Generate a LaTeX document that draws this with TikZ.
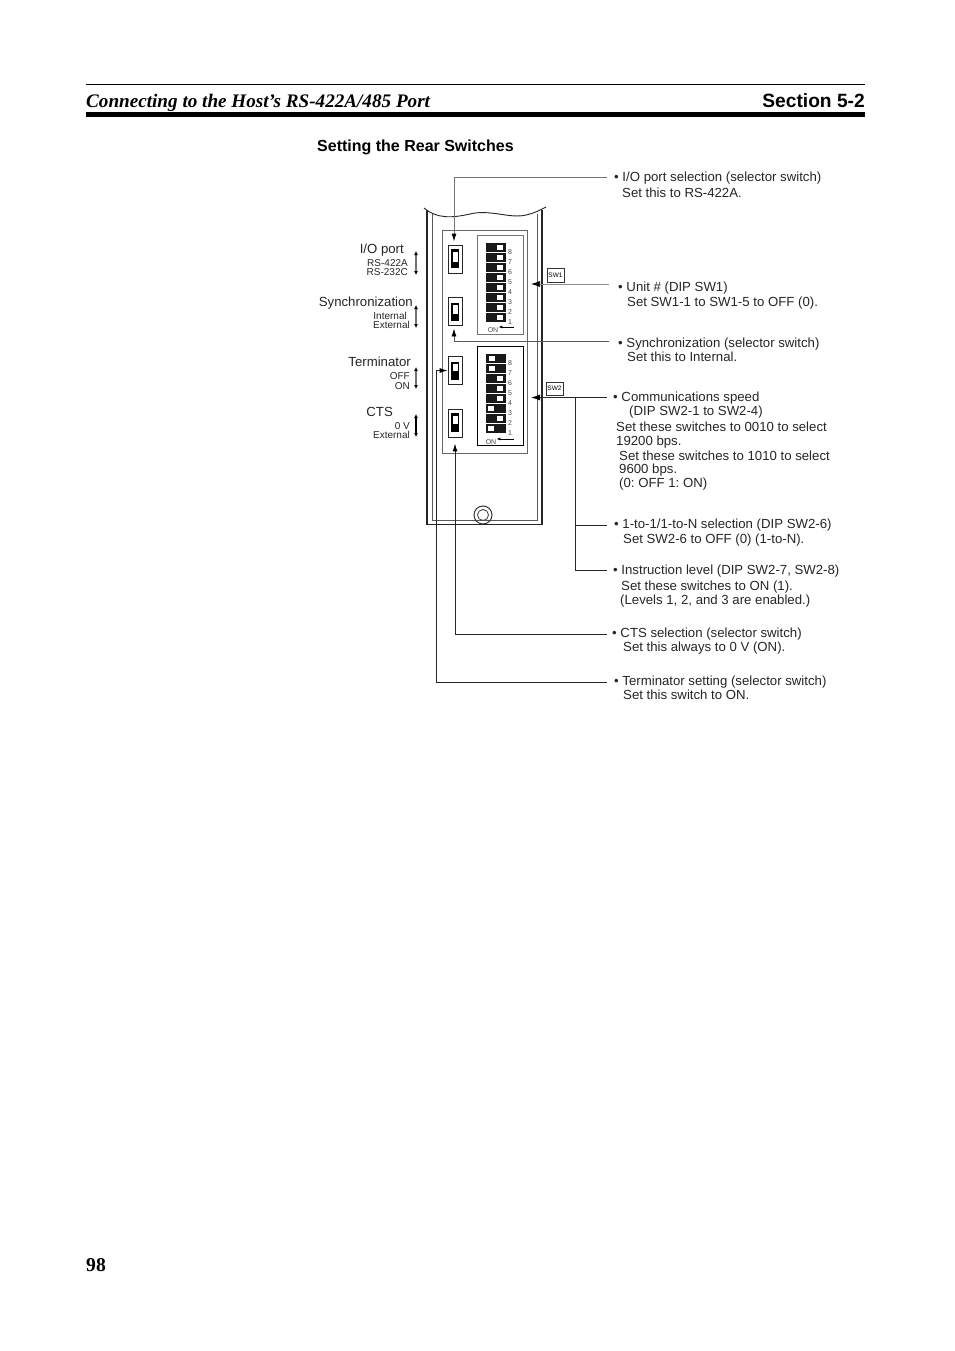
\documentclass[tikz,border=0pt]{standalone}
\usepackage{fontspec}
\usepackage{xcolor}
\setmainfont{Liberation Sans}
\newfontfamily\serifhead{Liberation Serif}
\usetikzlibrary{arrows.meta}

\tikzset{
	callout/.style={anchor=base west, inner sep=0, font=\frenchspacing\fontsize{13.2}{13.2}\selectfont, text=black!85!white},
	small/.style={anchor=base east, inner sep=0, font=\fontsize{10}{10}\selectfont, text=black!85!white},
	tiny/.style={anchor=center, inner sep=0, font=\fontsize{7}{7}\selectfont, text=black!70!white},
	leader/.style={line width=0.9, color=black!85!white},
	tip/.style={-{Latex[length=8,width=5,color=black]}, line width=0.9, color=black!85!white},
	sidetip/.style={-{Latex[length=9,width=6,color=black]}, line width=0.9, color=black!85!white},
	slide/.style={{Latex[length=4,width=4,color=black]}-{Latex[length=4,width=4,color=black]}, line width=1.1, color=black!55!white},
	selector/.style={draw=black!85!white, line width=0.9, minimum width=14, minimum height=28, inner sep=0},
	swtag/.style={draw=black!80!white, line width=0.8, minimum width=17, minimum height=14, inner sep=0, font=\fontsize{6.5}{6.5}\selectfont}
}

\begin{document}
\begin{tikzpicture}[x=1pt, y=-1pt]

\path[use as bounding box, fill=white] (0,0) rectangle (954,1351);

% page head
\draw[line width=0.8] (86,84.5)--(865,84.5);
\draw[line width=4.6] (86,114.4)--(865,114.4);
\node[anchor=base west, inner sep=0, font=\serifhead\bfseries\itshape\fontsize{19.15}{19.15}\selectfont] (head) at (86,107.5) {Connecting to the Host’s RS-422A/485 Port};
\node[anchor=base east, inner sep=0, font=\bfseries\fontsize{19.2}{19.2}\selectfont] (section) at (865,107.5) {Section 5-2};
\node[anchor=base west, inner sep=0, font=\bfseries\fontsize{16}{16}\selectfont] (title) at (317,151.5) {Setting the Rear Switches};
\node[anchor=base west, inner sep=0, font=\serifhead\bfseries\fontsize{19.6}{19.6}\selectfont] (page) at (86,1271) {98};

% unit outline
\draw[line width=1.1, color=black!85!white] (427,209)--(427,524.5)--(542,524.5)--(542,209);
\draw[line width=1.0, color=black!65!white] (432,214)--(432,520)--(537,520)--(537,214);
\draw[fill=white, draw=none] (420,200) rectangle (550,210);
\draw[line width=0.9, color=black!85!white] (424,208) .. controls (437,219) and (452,218) .. (470,214) .. controls (490,209) and (510,219) .. (526,215) .. controls (535,213) and (540,210) .. (546,207);

% switch panel
\draw[line width=1.0, color=black!60!white, fill=white] (442,230) rectangle (527,453.5);

% SW1 and SW2 boxes
\draw[line width=1.0, color=black!55!white] (477,235) rectangle (523.5,334);
\draw[line width=0.9, color=black] (477,346) rectangle (523.5,445);

% DIP levers, SW1 all off
\foreach \n [count=\i from 0] in {8,...,1}{
	\fill[black!90!white] (486,243+\i*10) rectangle (506,251.5+\i*10);
	\fill[white] (497,245+\i*10) rectangle (503,250+\i*10);
	\node[tiny] (swa\n) at (510,252+\i*10) {\n};
}

% DIP levers, SW2
\foreach \n/\xa [count=\i from 0] in {8/489,7/489,6/497,5/497,4/497,3/488,2/497,1/488}{
	\fill[black!90!white] (486,354+\i*10) rectangle (506,362.5+\i*10);
	\fill[white] (\xa,356+\i*10) rectangle (\xa+6,361+\i*10);
	\node[tiny] (swb\n) at (510,363.5+\i*10) {\n};
}

\node[tiny] (ona) at (493,330.5) {ON};
\node[tiny] (onb) at (491,442) {ON};
\coordinate (onaend) at (514,327);
\coordinate (onbend) at (514,439);
\draw[-{Latex[length=4,width=3]}, line width=0.7] (onaend)--(ona.east|-onaend);
\draw[-{Latex[length=4,width=3]}, line width=0.7] (onbend)--(onb.east|-onbend);

% selector switches
\node[selector] (sela) at (455,259) {};
\node[selector] (selb) at (455,311) {};
\node[selector] (selc) at (455,370.5) {};
\node[selector] (seld) at (455,423) {};
\fill[black] (451,249) rectangle (459,268);
\fill[white] (452.5,252) rectangle (457.5,262);
\fill[black] (451,303) rectangle (459,321);
\fill[white] (452.5,305) rectangle (457.5,314);
\fill[black] (451,362) rectangle (459,380);
\fill[white] (452.5,364) rectangle (457.5,371);
\fill[black] (451,413) rectangle (459,432);
\fill[white] (452.5,416) rectangle (457.5,424);

% screw
\node[circle, draw=black!80!white, line width=1.0, minimum size=18, inner sep=0] (screw) at (483,515) {};
\node[circle, draw=black!70!white, line width=0.9, minimum size=11, inner sep=0] (screwin) at (483,515) {};

% labels of the switches
\node[callout, anchor=base east] (lio) at (404,253) {I/O port};
\node[small] (lioa) at (408,266) {RS-422A};
\node[small] (liob) at (408,275) {RS-232C};
\node[callout, anchor=base east] (lsyn) at (413,306) {Synchronization};
\node[small] (lsyna) at (407,319) {Internal};
\node[small] (lsynb) at (410,328) {External};
\node[callout, anchor=base east] (lter) at (411,366) {Terminator};
\node[small] (ltera) at (410,379) {OFF};
\node[small] (lterb) at (410,389) {ON};
\node[callout, anchor=base east] (lcts) at (393,416) {CTS};
\node[small] (lctsa) at (410,429) {0 V};
\node[small] (lctsb) at (410,438) {External};
\coordinate (aa) at (416,251);
\coordinate (ab) at (416,275);
\coordinate (ba) at (416,305);
\coordinate (bb) at (416,328);
\coordinate (ca) at (416,367);
\coordinate (cb) at (416,389);
\coordinate (da) at (416,414);
\coordinate (db) at (416,437);
\foreach \a/\b in {aa/ab,ba/bb,ca/cb}{
	\draw[slide] (\a)--(\b);
}
\draw[slide, color=black] (da)--(db);

% SW name tags
\node[swtag] (tagone) at (555.5,275) {SW1};
\node[swtag, minimum height=13] (tagtwo) at (554.5,388.5) {SW2};

% callouts
\node[callout] (ioa) at (614,181.5) {• I/O port selection (selector switch)};
\node[callout] (iob) at (622,197) {Set this to RS-422A.};
\node[callout] (una) at (618,291) {• Unit \# (DIP SW1)};
\node[callout] (unb) at (627,306) {Set SW1-1 to SW1-5 to OFF (0).};
\node[callout] (sya) at (618,347) {• Synchronization (selector switch)};
\node[callout] (syb) at (627,361) {Set this to Internal.};
\node[callout] (coa) at (613,401) {• Communications speed};
\node[callout] (cob) at (629,415) {(DIP SW2-1 to SW2-4)};
\node[callout] (coc) at (616,431) {Set these switches to 0010 to select};
\node[callout] (cod) at (616,445) {19200 bps.};
\node[callout] (coe) at (619,460) {Set these switches to 1010 to select};
\node[callout] (cof) at (619,473) {9600 bps.};
\node[callout] (cog) at (619,487) {(0: OFF 1: ON)};
\node[callout] (nna) at (614,528) {• 1-to-1/1-to-N selection (DIP SW2-6)};
\node[callout] (nnb) at (623,543) {Set SW2-6 to OFF (0) (1-to-N).};
\node[callout] (ina) at (613,574) {• Instruction level (DIP SW2-7, SW2-8)};
\node[callout] (inb) at (621,590) {Set these switches to ON (1).};
\node[callout] (inc) at (620,604) {(Levels 1, 2, and 3 are enabled.)};
\node[callout] (cta) at (612,637) {• CTS selection (selector switch)};
\node[callout] (ctb) at (623,651) {Set this always to 0 V (ON).};
\node[callout] (tea) at (614,685) {• Terminator setting (selector switch)};
\node[callout] (teb) at (623,699) {Set this switch to ON.};

% connectors
\coordinate (ioturn) at (454,177);
\coordinate (ioend) at (607,177);
\draw[tip, color=black!55!white, shorten >=3] (ioend)--(ioturn)--(ioturn|-sela.north);

\coordinate (unend) at (609,284);
\coordinate (unhead) at (531,284);
\draw[sidetip, color=black!45!white, line width=0.7] (unend)--(unhead);

\coordinate (syturn) at (454,341);
\coordinate (syend) at (609,341);
\draw[tip, color=black!65!white, shorten >=3] (syend)--(syturn)--(syturn|-selb.south);

\coordinate (coend) at (607,397.5);
\coordinate (cohead) at (531,397.5);
\draw[sidetip] (coend)--(cohead);

\coordinate (nnend) at (607,525);
\coordinate (inend) at (607,570);
\coordinate (nnjoin) at (575.5,525);
\coordinate (injoin) at (575.5,570);
\coordinate (cojoin) at (575.5,397.5);
\draw[leader] (nnend)--(nnjoin);
\draw[leader] (inend)--(injoin)--(cojoin);

\coordinate (ctend) at (607,634);
\coordinate (ctturn) at (455,634);
\draw[tip, shorten >=6] (ctend)--(ctturn)--(seld.south);

\coordinate (teend) at (607,682);
\coordinate (teturn) at (436,682);
\coordinate (tetop) at (436,370.5);
\draw[tip] (teend)--(teturn)--(tetop)--(selc.west);

\end{tikzpicture}
\end{document}
